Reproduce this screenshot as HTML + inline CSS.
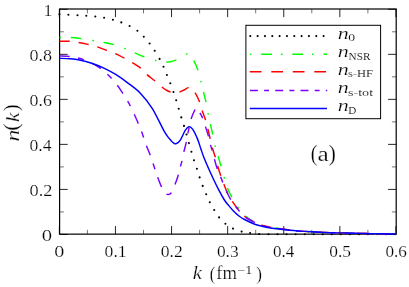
<!DOCTYPE html>
<html><head><meta charset="utf-8"><title>plot</title>
<style>html,body{margin:0;padding:0;background:#fff}svg{display:block}</style></head>
<body>
<svg width="409" height="287" viewBox="0 0 409 287">
<rect width="409" height="287" fill="#fff"/>
<path d="M59.35 234.15v-8.1M59.35 9.00v8.1M115.45 234.15v-8.1M115.45 9.00v8.1M171.55 234.15v-8.1M171.55 9.00v8.1M227.65 234.15v-8.1M227.65 9.00v8.1M283.75 234.15v-8.1M283.75 9.00v8.1M339.85 234.15v-8.1M339.85 9.00v8.1M395.95 234.15v-8.1M395.95 9.00v8.1M59.60 234.45h8.1M396.20 234.45h-8.1M59.60 189.42h8.1M396.20 189.42h-8.1M59.60 144.39h8.1M396.20 144.39h-8.1M59.60 99.36h8.1M396.20 99.36h-8.1M59.60 54.33h8.1M396.20 54.33h-8.1M59.60 9.30h8.1M396.20 9.30h-8.1" stroke="#000" stroke-width="0.85" fill="none"/>
<path d="M87.40 234.15v-4.3M87.40 9.00v4.3M143.50 234.15v-4.3M143.50 9.00v4.3M199.60 234.15v-4.3M199.60 9.00v4.3M255.70 234.15v-4.3M255.70 9.00v4.3M311.80 234.15v-4.3M311.80 9.00v4.3M367.90 234.15v-4.3M367.90 9.00v4.3M59.60 211.94h4.3M396.20 211.94h-4.3M59.60 166.91h4.3M396.20 166.91h-4.3M59.60 121.88h4.3M396.20 121.88h-4.3M59.60 76.84h4.3M396.20 76.84h-4.3M59.60 31.81h4.3M396.20 31.81h-4.3" stroke="#000" stroke-width="0.55" fill="none"/>
<rect x="59.60" y="9.00" width="336.60" height="225.15" fill="none" stroke="#000" stroke-width="1.2"/>
<g fill="#000">
<circle cx="59.4" cy="14.3" r="1.05"/>
<circle cx="68.4" cy="14.8" r="1.05"/>
<circle cx="77.5" cy="15.3" r="1.05"/>
<circle cx="86.3" cy="15.8" r="1.05"/>
<circle cx="95.3" cy="16.5" r="1.05"/>
<circle cx="104.1" cy="17.7" r="1.05"/>
<circle cx="112.9" cy="19.7" r="1.05"/>
<circle cx="121.3" cy="22.4" r="1.05"/>
<circle cx="129.6" cy="26.0" r="1.05"/>
<circle cx="137.4" cy="30.7" r="1.05"/>
<circle cx="143.8" cy="36.8" r="1.05"/>
<circle cx="149.6" cy="43.5" r="1.05"/>
<circle cx="154.7" cy="50.8" r="1.05"/>
<circle cx="159.6" cy="58.9" r="1.05"/>
<circle cx="163.5" cy="66.7" r="1.05"/>
<circle cx="166.9" cy="75.0" r="1.05"/>
<circle cx="170.3" cy="83.3" r="1.05"/>
<circle cx="173.5" cy="92.0" r="1.05"/>
<circle cx="176.2" cy="100.2" r="1.05"/>
<circle cx="178.7" cy="108.8" r="1.05"/>
<circle cx="181.3" cy="117.4" r="1.05"/>
<circle cx="184.0" cy="125.9" r="1.05"/>
<circle cx="186.5" cy="134.5" r="1.05"/>
<circle cx="188.9" cy="143.1" r="1.05"/>
<circle cx="191.4" cy="151.8" r="1.05"/>
<circle cx="194.0" cy="160.2" r="1.05"/>
<circle cx="196.9" cy="168.8" r="1.05"/>
<circle cx="199.6" cy="177.4" r="1.05"/>
<circle cx="202.7" cy="185.9" r="1.05"/>
<circle cx="206.2" cy="194.3" r="1.05"/>
<circle cx="209.8" cy="202.3" r="1.05"/>
<circle cx="214.2" cy="210.0" r="1.05"/>
<circle cx="219.1" cy="217.4" r="1.05"/>
<circle cx="225.4" cy="223.7" r="1.05"/>
<circle cx="233.0" cy="228.6" r="1.05"/>
<circle cx="241.6" cy="231.6" r="1.05"/>
<circle cx="250.1" cy="233.0" r="1.05"/>
<circle cx="259.2" cy="234.0" r="1.05"/>
<circle cx="268.5" cy="234.3" r="1.05"/>
<circle cx="277.5" cy="234.3" r="1.05"/>
<circle cx="286.6" cy="234.3" r="1.05"/>
<circle cx="295.6" cy="234.3" r="1.05"/>
<circle cx="304.7" cy="234.3" r="1.05"/>
<circle cx="313.7" cy="234.3" r="1.05"/>
<circle cx="322.7" cy="234.3" r="1.05"/>
<circle cx="331.8" cy="234.3" r="1.05"/>
<circle cx="340.8" cy="234.3" r="1.05"/>
<circle cx="349.9" cy="234.3" r="1.05"/>
<circle cx="358.9" cy="234.3" r="1.05"/>
<circle cx="367.9" cy="234.3" r="1.05"/>
<circle cx="377.0" cy="234.3" r="1.05"/>
<circle cx="386.0" cy="234.3" r="1.05"/>
<circle cx="395.1" cy="234.3" r="1.05"/>
</g>
<g fill="none" stroke-width="1.45">
<path d="M59.50 37.50C61.40 37.50 67.37 37.33 70.90 37.50C74.43 37.67 77.03 38.00 80.70 38.50C84.37 39.00 89.03 39.85 92.90 40.50C96.77 41.15 100.43 41.72 103.90 42.40C107.37 43.08 110.23 43.58 113.70 44.60C117.17 45.62 121.23 47.15 124.70 48.50C128.17 49.85 131.25 51.32 134.50 52.70C137.75 54.08 140.75 55.53 144.20 56.80C147.65 58.07 151.62 59.43 155.20 60.30C158.78 61.17 163.07 61.80 165.70 62.00C168.33 62.20 169.17 61.87 171.00 61.50C172.83 61.13 174.25 60.98 176.70 59.80C179.15 58.62 183.57 55.33 185.70 54.40C187.83 53.47 188.15 53.17 189.50 54.20C190.85 55.23 192.38 57.92 193.80 60.60C195.22 63.28 196.82 66.85 198.00 70.30C199.18 73.75 199.97 77.62 200.90 81.30C201.83 84.98 202.75 88.92 203.60 92.40C204.45 95.88 205.25 98.72 206.00 102.20C206.75 105.68 207.37 109.63 208.10 113.30C208.83 116.97 209.60 120.55 210.40 124.20C211.20 127.85 212.13 131.67 212.90 135.20C213.67 138.73 214.17 142.00 215.00 145.40C215.83 148.80 216.92 152.22 217.90 155.60C218.88 158.98 219.88 162.17 220.90 165.70C221.92 169.23 222.95 173.18 224.00 176.80C225.05 180.42 225.93 184.07 227.20 187.40C228.47 190.73 229.90 193.57 231.60 196.80C233.30 200.03 235.27 203.68 237.40 206.80C239.53 209.92 241.78 213.10 244.40 215.50C247.02 217.90 250.20 219.62 253.10 221.20C256.00 222.78 258.90 223.98 261.80 225.00C264.70 226.02 266.95 226.62 270.50 227.30C274.05 227.98 278.18 228.47 283.10 229.10C288.02 229.73 293.85 230.58 300.00 231.10C306.15 231.62 313.55 231.90 320.00 232.20C326.45 232.50 330.37 232.67 338.70 232.90C347.03 233.13 360.42 233.42 370.00 233.60C379.58 233.78 391.83 233.93 396.20 234.00" stroke="#00ff00" stroke-dasharray="1.6 9.8 10.5 11.1" stroke-dashoffset="0"/>
<path d="M59.50 41.20C61.22 41.22 66.68 41.10 69.80 41.30C72.92 41.50 75.17 41.88 78.20 42.40C81.23 42.92 84.93 43.70 88.00 44.40C91.07 45.10 93.55 45.62 96.60 46.60C99.65 47.58 103.25 49.17 106.30 50.30C109.35 51.43 111.83 52.07 114.90 53.40C117.97 54.73 121.85 56.78 124.70 58.30C127.55 59.82 129.35 60.87 132.00 62.50C134.65 64.13 138.20 66.17 140.60 68.10C143.00 70.03 144.03 71.98 146.40 74.10C148.77 76.22 152.28 78.70 154.80 80.80C157.32 82.90 159.47 85.08 161.50 86.70C163.53 88.32 165.17 89.53 167.00 90.50C168.83 91.47 170.55 92.22 172.50 92.50C174.45 92.78 176.78 92.62 178.70 92.20C180.62 91.78 182.42 90.77 184.00 90.00C185.58 89.23 186.95 87.93 188.20 87.60C189.45 87.27 190.33 87.12 191.50 88.00C192.67 88.88 193.85 90.57 195.20 92.90C196.55 95.23 198.45 99.08 199.60 102.00C200.75 104.92 201.12 107.42 202.10 110.40C203.08 113.38 204.52 116.75 205.50 119.90C206.48 123.05 207.23 126.17 208.00 129.30C208.77 132.43 209.27 135.25 210.10 138.70C210.93 142.15 212.07 146.72 213.00 150.00C213.93 153.28 214.88 155.62 215.70 158.40C216.52 161.18 217.03 163.75 217.90 166.70C218.77 169.65 219.88 173.13 220.90 176.10C221.92 179.07 222.85 181.57 224.00 184.50C225.15 187.43 226.42 190.88 227.80 193.70C229.18 196.52 230.68 198.93 232.30 201.40C233.92 203.87 235.48 206.02 237.50 208.50C239.52 210.98 241.80 214.12 244.40 216.30C247.00 218.48 250.20 220.12 253.10 221.60C256.00 223.08 258.90 224.25 261.80 225.20C264.70 226.15 266.95 226.65 270.50 227.30C274.05 227.95 278.18 228.47 283.10 229.10C288.02 229.73 293.85 230.58 300.00 231.10C306.15 231.62 313.55 231.90 320.00 232.20C326.45 232.50 330.37 232.67 338.70 232.90C347.03 233.13 360.42 233.42 370.00 233.60C379.58 233.78 391.83 233.93 396.20 234.00" stroke="#ff0000" stroke-dasharray="10.2 9.0" stroke-dashoffset="0"/>
<path d="M59.50 55.90C61.22 56.02 66.38 56.17 69.80 56.60C73.22 57.03 76.35 57.40 80.00 58.50C83.65 59.60 88.33 61.60 91.70 63.20C95.07 64.80 97.68 66.35 100.20 68.10C102.72 69.85 104.88 71.95 106.80 73.70C108.72 75.45 109.95 76.68 111.70 78.60C113.45 80.52 115.67 83.08 117.30 85.20C118.93 87.32 119.95 88.93 121.50 91.30C123.05 93.67 125.17 97.03 126.60 99.40C128.03 101.77 128.62 102.57 130.10 105.50C131.58 108.43 133.60 112.67 135.50 117.00C137.40 121.33 139.75 126.90 141.50 131.50C143.25 136.10 144.55 140.67 146.00 144.60C147.45 148.53 148.77 151.18 150.20 155.10C151.63 159.02 153.43 164.62 154.60 168.10C155.77 171.58 155.98 172.73 157.20 176.00C158.42 179.27 160.50 184.82 161.90 187.70C163.30 190.58 164.55 192.17 165.60 193.30C166.65 194.43 167.33 194.50 168.20 194.50C169.07 194.50 169.80 194.65 170.80 193.30C171.80 191.95 173.07 189.07 174.20 186.40C175.33 183.73 176.73 180.13 177.60 177.30C178.47 174.47 178.75 171.80 179.40 169.40C180.05 167.00 180.83 165.50 181.50 162.90C182.17 160.30 182.65 157.07 183.40 153.80C184.15 150.53 185.35 146.35 186.00 143.30C186.65 140.25 186.87 137.68 187.30 135.50C187.73 133.32 188.08 132.60 188.60 130.20C189.12 127.80 189.48 124.22 190.40 121.10C191.32 117.98 193.00 113.72 194.10 111.50C195.20 109.28 195.98 107.48 197.00 107.80C198.02 108.12 199.27 111.68 200.20 113.40C201.13 115.12 201.72 115.88 202.60 118.10C203.48 120.32 204.52 123.63 205.50 126.70C206.48 129.77 207.63 133.35 208.50 136.50C209.37 139.65 210.10 143.32 210.70 145.60C211.30 147.88 211.48 147.97 212.10 150.20C212.72 152.43 213.60 156.07 214.40 159.00C215.20 161.93 215.92 164.95 216.90 167.80C217.88 170.65 219.25 173.48 220.30 176.10C221.35 178.72 222.20 181.05 223.20 183.50C224.20 185.95 225.12 188.25 226.30 190.80C227.48 193.35 228.52 195.88 230.30 198.80C232.08 201.72 234.68 205.38 237.00 208.30C239.32 211.22 241.52 214.08 244.20 216.30C246.88 218.52 250.17 220.12 253.10 221.60C256.03 223.08 258.90 224.25 261.80 225.20C264.70 226.15 266.95 226.65 270.50 227.30C274.05 227.95 278.18 228.47 283.10 229.10C288.02 229.73 293.85 230.58 300.00 231.10C306.15 231.62 313.55 231.90 320.00 232.20C326.45 232.50 330.37 232.67 338.70 232.90C347.03 233.13 360.42 233.42 370.00 233.60C379.58 233.78 391.83 233.93 396.20 234.00" stroke="#7a00ff" stroke-dasharray="10.2 8.6 6.0 8.9" stroke-dashoffset="0"/>
<path d="M59.50 58.30C61.25 58.38 66.68 58.52 70.00 58.80C73.32 59.08 75.78 59.27 79.40 60.00C83.02 60.73 87.62 61.85 91.70 63.20C95.78 64.55 99.83 66.18 103.90 68.10C107.97 70.02 112.03 72.17 116.10 74.70C120.17 77.23 124.27 80.22 128.30 83.30C132.33 86.38 136.32 89.03 140.30 93.20C144.28 97.37 148.18 101.90 152.20 108.30C156.22 114.70 161.33 126.30 164.40 131.60C167.47 136.90 168.75 138.07 170.60 140.10C172.45 142.13 173.88 143.80 175.50 143.80C177.12 143.80 178.68 142.35 180.30 140.10C181.92 137.85 183.77 132.53 185.20 130.30C186.63 128.07 187.67 126.90 188.90 126.70C190.13 126.50 191.17 127.07 192.60 129.10C194.03 131.13 196.10 135.53 197.50 138.90C198.90 142.27 199.87 146.03 201.00 149.30C202.13 152.57 202.70 154.55 204.30 158.50C205.90 162.45 208.22 167.80 210.60 173.00C212.98 178.20 216.30 185.20 218.60 189.70C220.90 194.20 222.70 197.35 224.40 200.00C226.10 202.65 227.17 203.63 228.80 205.60C230.43 207.57 232.50 210.07 234.20 211.80C235.90 213.53 237.28 214.72 239.00 216.00C240.72 217.28 241.87 218.13 244.50 219.50C247.13 220.87 251.72 223.03 254.80 224.20C257.88 225.37 260.10 225.83 263.00 226.50C265.90 227.17 267.75 227.57 272.20 228.20C276.65 228.83 285.07 229.82 289.70 230.30C294.33 230.78 294.95 230.78 300.00 231.10C305.05 231.42 313.55 231.90 320.00 232.20C326.45 232.50 330.37 232.67 338.70 232.90C347.03 233.13 360.42 233.42 370.00 233.60C379.58 233.78 391.83 233.93 396.20 234.00" stroke="#0000ff"/>
</g>
<rect x="245.9" y="25.3" width="134.7" height="93.4" fill="#fff" stroke="#000" stroke-width="1"/>
<g fill="#000">
<circle cx="250.30" cy="36.1" r="1.05"/>
<circle cx="257.63" cy="36.1" r="1.05"/>
<circle cx="264.96" cy="36.1" r="1.05"/>
<circle cx="272.29" cy="36.1" r="1.05"/>
<circle cx="279.62" cy="36.1" r="1.05"/>
<circle cx="286.95" cy="36.1" r="1.05"/>
<circle cx="294.28" cy="36.1" r="1.05"/>
<circle cx="301.61" cy="36.1" r="1.05"/>
<circle cx="308.94" cy="36.1" r="1.05"/>
<circle cx="316.27" cy="36.1" r="1.05"/>
<circle cx="323.60" cy="36.1" r="1.05"/>
</g>
<g fill="none" stroke-width="1.45">
<path d="M249.8 54.2H327" stroke="#00ff00" stroke-dasharray="1.6 9.8 10.8 8.9" stroke-dashoffset="0"/>
<path d="M249.8 71.8H326.2" stroke="#ff0000" stroke-dasharray="11.7 9.8"/>
<path d="M249.9 90.4H327.2" stroke="#7a00ff" stroke-dasharray="8 6.2 4.9 6.2"/>
<path d="M249.8 108.4H327" stroke="#0000ff"/>
</g>
<g font-family="'Liberation Serif', serif" fill="#000" stroke="#fff" style="will-change:transform">
<text x="43.42" y="16.40" font-size="17.0px" stroke-width="0.22" textLength="8.92" lengthAdjust="spacingAndGlyphs">1</text>
<text x="29.50" y="61.40" font-size="17.0px" stroke-width="0.22" textLength="22.59" lengthAdjust="spacingAndGlyphs">0.8</text>
<text x="29.51" y="106.40" font-size="17.0px" stroke-width="0.22" textLength="22.31" lengthAdjust="spacingAndGlyphs">0.6</text>
<text x="29.52" y="151.40" font-size="17.0px" stroke-width="0.22" textLength="22.04" lengthAdjust="spacingAndGlyphs">0.4</text>
<text x="29.49" y="196.40" font-size="17.0px" stroke-width="0.22" textLength="22.88" lengthAdjust="spacingAndGlyphs">0.2</text>
<text x="41.89" y="241.40" font-size="17.0px" stroke-width="0.22" textLength="10.32" lengthAdjust="spacingAndGlyphs">0</text>
<text x="54.26" y="256.60" font-size="17.0px" stroke-width="0.22" textLength="10.08" lengthAdjust="spacingAndGlyphs">0</text>
<text x="104.59" y="256.60" font-size="17.0px" stroke-width="0.22" textLength="22.01" lengthAdjust="spacingAndGlyphs">0.1</text>
<text x="160.76" y="256.60" font-size="17.0px" stroke-width="0.22" textLength="22.01" lengthAdjust="spacingAndGlyphs">0.2</text>
<text x="216.93" y="256.60" font-size="17.0px" stroke-width="0.22" textLength="21.73" lengthAdjust="spacingAndGlyphs">0.3</text>
<text x="273.12" y="256.60" font-size="17.0px" stroke-width="0.22" textLength="21.20" lengthAdjust="spacingAndGlyphs">0.4</text>
<text x="329.27" y="256.60" font-size="17.0px" stroke-width="0.22" textLength="21.73" lengthAdjust="spacingAndGlyphs">0.5</text>
<text x="385.44" y="256.60" font-size="17.0px" stroke-width="0.22" textLength="21.46" lengthAdjust="spacingAndGlyphs">0.6</text>
<text x="337.76" y="38.50" font-size="17.2px" font-style="italic" stroke-width="0.22" textLength="11.02" lengthAdjust="spacingAndGlyphs">n</text>
<text x="348.29" y="41.30" font-size="11.2px" stroke-width="0.12" textLength="6.83" lengthAdjust="spacingAndGlyphs">0</text>
<text x="337.76" y="56.90" font-size="17.2px" font-style="italic" stroke-width="0.22" textLength="11.02" lengthAdjust="spacingAndGlyphs">n</text>
<text x="348.63" y="59.70" font-size="10.3px" stroke-width="0.12" textLength="21.81" lengthAdjust="spacingAndGlyphs">NSR</text>
<text x="337.76" y="74.50" font-size="17.2px" font-style="italic" stroke-width="0.22" textLength="11.02" lengthAdjust="spacingAndGlyphs">n</text>
<text x="347.99" y="77.30" font-size="10.3px" stroke-width="0.12" textLength="25.04" lengthAdjust="spacingAndGlyphs">s-HF</text>
<text x="337.76" y="93.00" font-size="17.2px" font-style="italic" stroke-width="0.22" textLength="11.02" lengthAdjust="spacingAndGlyphs">n</text>
<text x="347.91" y="95.80" font-size="10.3px" stroke-width="0.12" textLength="25.17" lengthAdjust="spacingAndGlyphs">s-tot</text>
<text x="337.76" y="110.90" font-size="17.2px" font-style="italic" stroke-width="0.22" textLength="11.02" lengthAdjust="spacingAndGlyphs">n</text>
<text x="348.33" y="113.70" font-size="10.3px" stroke-width="0.12" textLength="8.04" lengthAdjust="spacingAndGlyphs">D</text>
<text x="192.84" y="279.30" font-size="18.3px" font-style="italic" stroke-width="0.22" textLength="9.12" lengthAdjust="spacingAndGlyphs">k</text>
<text x="209.67" y="279.70" font-size="19.5px" stroke-width="0.22" textLength="5.45" lengthAdjust="spacingAndGlyphs">(</text>
<text x="216.38" y="279.30" font-size="17.8px" stroke-width="0.22" textLength="20.70" lengthAdjust="spacingAndGlyphs">fm</text>
<text x="237.39" y="273.90" font-size="11.5px" stroke-width="0.12" textLength="15.03" lengthAdjust="spacingAndGlyphs">−1</text>
<text x="256.16" y="279.70" font-size="19.5px" stroke-width="0.22" textLength="5.70" lengthAdjust="spacingAndGlyphs">)</text>
<text x="310.65" y="161.40" font-size="23.5px" stroke-width="0.22" textLength="6.65" lengthAdjust="spacingAndGlyphs">(</text>
<text x="317.57" y="160.70" font-size="20.5px" stroke-width="0.22" textLength="11.27" lengthAdjust="spacingAndGlyphs">a</text>
<text x="328.72" y="161.40" font-size="23.5px" stroke-width="0.22" textLength="7.05" lengthAdjust="spacingAndGlyphs">)</text>
<g transform="translate(18.5 140.8) rotate(-90)">
<text x="-0.77" y="0.00" font-size="18.3px" font-style="italic" stroke-width="0.22" textLength="11.82" lengthAdjust="spacingAndGlyphs">n</text>
<text x="10.10" y="-0.90" font-size="20.5px" stroke-width="0.22" textLength="7.54" lengthAdjust="spacingAndGlyphs">(</text>
<text x="18.72" y="0.00" font-size="18.3px" font-style="italic" stroke-width="0.22" textLength="9.44" lengthAdjust="spacingAndGlyphs">k</text>
<text x="29.53" y="-0.90" font-size="20.5px" stroke-width="0.22" textLength="7.02" lengthAdjust="spacingAndGlyphs">)</text>
</g>
</g>
</svg>
</body></html>
